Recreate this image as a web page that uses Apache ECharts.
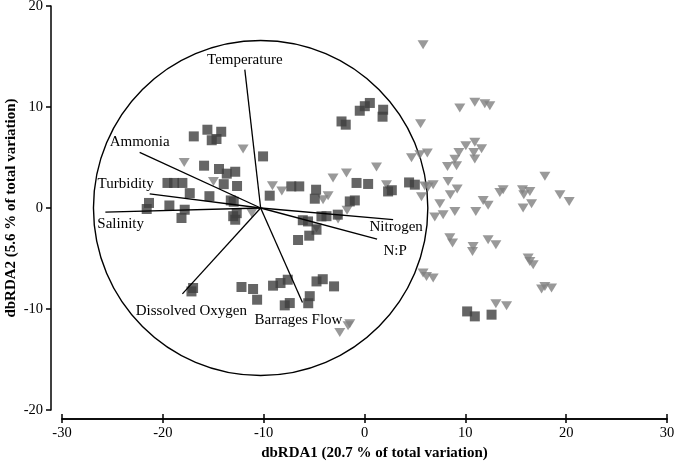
<!DOCTYPE html>
<html>
<head>
<meta charset="utf-8">
<script src="https://cdn.jsdelivr.net/npm/echarts@6/dist/echarts.min.js"></script>
<style>html,body{margin:0;padding:0;background:#fff;}#chart{width:675px;height:461px;}</style>
</head>
<body>
<div id="chart"></div>
<script>
// ---- data ----
const squareX = [-16.93,-15.58,-14.21,-14.68,-15.15,-10.06,-15.91,-14.43,-13.66,-12.82,-13.96,-12.64,-19.54,-18.89,-18.06,-17.33,-15.38,-13.26,-12.97,-21.37,-21.6,-19.35,-17.83,-18.15,-13.02,-12.82,-12.67,-9.40,-7.26,-6.47,-4.80,-4.93,-0.47,0.03,0.53,1.85,1.79,-2.28,-1.86,-0.79,0.36,-1.46,-0.96,2.34,2.71,4.42,4.99,-6.12,-5.60,-4.27,-3.77,-2.65,-6.59,-5.48,-4.76,-17.0,-17.16,-12.20,-11.05,-10.65,-9.07,-8.33,-7.61,-7.91,-7.41,-5.43,-5.58,-4.76,-4.14,-3.02,10.18,10.94,12.60];
const squareY = [7.09,7.75,7.55,6.83,6.71,5.11,4.19,3.86,3.40,3.59,2.36,2.18,2.48,2.48,2.48,1.47,1.17,0.75,0.62,0.50,-0.10,0.25,-0.17,-0.99,-0.81,-1.16,-0.51,1.22,2.14,2.14,1.81,0.92,9.63,10.08,10.40,9.73,9.04,8.57,8.25,2.48,2.38,0.65,0.75,1.64,1.76,2.53,2.31,-1.21,-1.33,-0.83,-0.81,-0.66,-3.17,-2.74,-2.15,-7.92,-8.26,-7.82,-8.02,-9.08,-7.69,-7.43,-7.10,-9.64,-9.41,-8.73,-9.43,-7.27,-7.05,-7.76,-10.24,-10.73,-10.56];
const triangleX = [-12.04,-17.88,-14.98,-9.13,-8.20,-11.18,-3.12,-1.79,1.19,2.18,5.56,5.81,9.45,10.94,11.93,12.43,10.05,10.94,11.61,10.84,10.94,4.66,5.49,6.23,9.36,8.96,8.23,9.13,17.89,6.81,6.31,8.29,9.19,8.51,5.65,5.98,7.47,8.96,6.97,7.80,11.04,11.77,12.26,13.75,13.42,15.67,16.40,15.80,15.73,16.57,19.38,20.30,8.46,8.73,10.77,10.71,12.26,13.03,16.23,16.40,16.73,17.56,17.89,18.55,13.03,14.09,5.81,6.15,6.81,-2.45,-1.63,-1.46,-3.61,-4.11,-1.73,-2.62,-4.76];
const triangleY = [5.84,4.51,2.63,2.21,1.68,-0.50,2.97,3.47,4.06,2.31,8.35,16.17,9.90,10.46,10.33,10.13,6.17,6.50,5.87,5.50,4.85,4.98,5.28,5.45,5.50,4.83,4.12,4.19,3.15,2.31,2.08,2.63,1.88,1.32,1.12,2.18,0.43,-0.34,-0.89,-0.66,-0.34,0.75,0.26,1.81,1.54,1.81,1.64,1.32,0.0,0.43,1.32,0.65,-2.94,-3.47,-3.80,-4.30,-3.14,-3.63,-4.95,-5.29,-5.61,-8.02,-7.76,-7.92,-9.48,-9.67,-6.44,-6.77,-6.93,-12.32,-11.65,-11.46,1.22,0.82,-0.22,-1.09,-1.98];
const vectorNames = ['Temperature','Ammonia','Turbidity','Salinity','Dissolved Oxygen','Barrages Flow','Nitrogen','N:P'];
const vectorX = [-11.87,-22.3,-21.3,-25.7,-18.06,-6.15,2.84,1.25];
const vectorY = [13.7,5.5,1.39,-0.4,-8.5,-9.35,-1.16,-3.07];
const vectorOrigin = [-10.3, 0];
const circleCenter = [-10.3, 0];
const circleRadius = 16.58;
const xTicks = [-30, 30, 10]; // min, max, interval
const yTicks = [-20, 20, 10];
const xTitle = 'dbRDA1 (20.7 % of total variation)';
const yTitle = 'dbRDA2 (5.6 % of total variation)';

// ---- label placement (style, not data) ----
const labelPlace = {
  'Temperature': {dx: 0, dy: -10, align: 'center'},
  'Ammonia': {dx: 0, dy: -10, align: 'center'},
  'Turbidity': {dx: 4, dy: -10, align: 'right'},
  'Salinity': {dx: -8, dy: 12, align: 'left'},
  'Dissolved Oxygen': {dx: 9, dy: 17, align: 'center'},
  'Barrages Flow': {dx: -4, dy: 18, align: 'center'},
  'Nitrogen': {dx: 3, dy: 7, align: 'center'},
  'N:P': {dx: 18, dy: 12, align: 'center'}
};

const FONT = '"Liberation Serif","Times New Roman",serif';
const squares = squareX.map((x, i) => [x, squareY[i]]);
const triangles = triangleX.map((x, i) => [x, triangleY[i]]);
const vectors = vectorNames.map((n, i) => [vectorX[i], vectorY[i], n]);

const chart = echarts.init(document.getElementById('chart'), null, {renderer: 'canvas'});
const axisCommon = {
  type: 'value',
  splitLine: {show: false},
  axisLine: {show: true, onZero: false, lineStyle: {color: '#000', width: 1.5}},
};
chart.setOption({
  animation: false,
  backgroundColor: '#fff',
  grid: {left: 62, right: 8, top: 6, bottom: 51, containLabel: false, outerBoundsMode: 'none'},
  xAxis: [
    Object.assign({}, axisCommon, {
      min: xTicks[0], max: xTicks[1], interval: xTicks[2], position: 'bottom', offset: 9,
      axisTick: {show: true, inside: false, length: 4, lineStyle: {color: '#000', width: 1.5}},
      axisLabel: {color: '#000', fontFamily: FONT, fontSize: 14.5, margin: 7},
      name: xTitle, nameLocation: 'middle', nameGap: 25,
      nameTextStyle: {color: '#000', fontFamily: FONT, fontSize: 15, fontWeight: 'bold', padding: [0, 0, 0, 20]}
    }),
    Object.assign({}, axisCommon, {
      min: xTicks[0], max: xTicks[1], interval: xTicks[2], position: 'bottom', offset: 9,
      axisTick: {show: true, inside: true, length: 5, lineStyle: {color: '#000', width: 1.5}},
      axisLabel: {show: false}
    })
  ],
  yAxis: Object.assign({}, axisCommon, {
    min: yTicks[0], max: yTicks[1], interval: yTicks[2], position: 'left', offset: 11,
    axisTick: {show: true, inside: false, length: 5, lineStyle: {color: '#000', width: 1.5}},
    axisLabel: {color: '#000', fontFamily: FONT, fontSize: 14.5, margin: 8},
    name: yTitle, nameLocation: 'middle', nameGap: 32, nameMoveOverlap: false,
    nameTextStyle: {color: '#000', fontFamily: FONT, fontSize: 15, fontWeight: 'bold'}
  }),
  series: [
    {
      type: 'custom', xAxisIndex: 0, yAxisIndex: 0, silent: true, z: 1,
      data: [[circleCenter[0], circleCenter[1], circleRadius]],
      renderItem: function (params, api) {
        const c = api.coord([api.value(0), api.value(1)]);
        const s = api.size([api.value(2), api.value(2)]);
        return {type: 'ellipse', shape: {cx: c[0], cy: c[1], rx: s[0], ry: s[1]},
          style: {fill: 'none', stroke: '#000', lineWidth: 1.4}};
      }
    },
    {
      type: 'scatter', xAxisIndex: 0, yAxisIndex: 0, z: 2, silent: true,
      symbol: 'triangle', symbolRotate: 180, symbolSize: [11, 9],
      itemStyle: {color: '#7f7f7f'},
      data: triangles
    },
    {
      type: 'scatter', xAxisIndex: 0, yAxisIndex: 0, z: 3, silent: true,
      symbol: 'rect', symbolSize: 10,
      itemStyle: {color: '#3e3e3e'},
      data: squares
    },
    {
      type: 'custom', xAxisIndex: 0, yAxisIndex: 0, silent: true, z: 4,
      data: vectors,
      renderItem: function (params, api) {
        const o = api.coord(vectorOrigin);
        const e = api.coord([api.value(0), api.value(1)]);
        const name = vectorNames[params.dataIndex];
        const p = labelPlace[name];
        return {
          type: 'group',
          children: [
            {type: 'line', shape: {x1: o[0], y1: o[1], x2: e[0], y2: e[1]},
              style: {stroke: '#000', lineWidth: 1.3}},
            {type: 'text', x: e[0] + p.dx, y: e[1] + p.dy,
              style: {text: name, fill: '#000', font: '15px ' + FONT, align: p.align, verticalAlign: 'middle'}}
          ]
        };
      }
    }
  ]
});
</script>
</body>
</html>
